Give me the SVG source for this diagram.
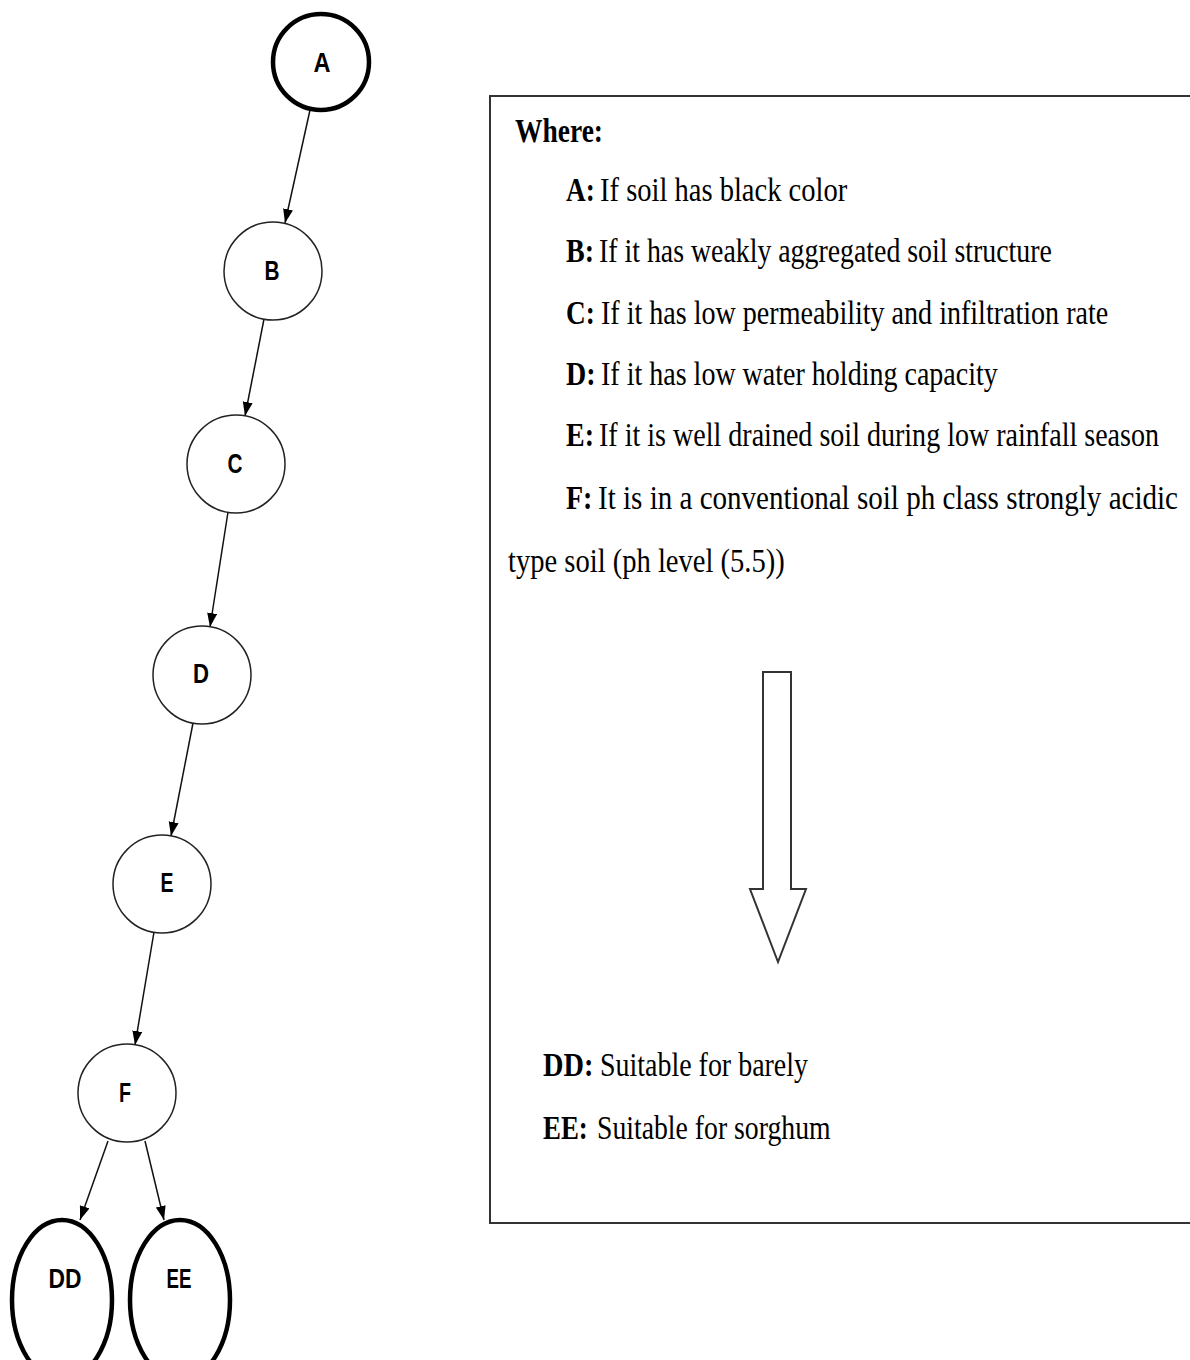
<svg xmlns="http://www.w3.org/2000/svg" width="1190" height="1360" viewBox="0 0 1190 1360">
  <style>
    .node { fill: #ffffff; stroke: #222222; stroke-width: 1.5; }
    .term { fill: #ffffff; stroke: #000000; stroke-width: 4.5; }
    .lbl { font-family: "Liberation Sans", Arial, sans-serif; font-weight: bold; font-size: 28px; fill: #000000; text-anchor: middle; }
    .edge { stroke: #111111; stroke-width: 1.5; fill: none; marker-end: url(#head); }
    .txt { font-family: "Liberation Serif", "Times New Roman", serif; font-size: 33px; fill: #000000; }
    .b { font-weight: bold; }
  </style>
  <defs>
    <marker id="head" markerWidth="14" markerHeight="11" refX="14" refY="5" orient="auto" markerUnits="userSpaceOnUse">
      <path d="M0,0 L14,5 L0,10 z" fill="#000000"/>
    </marker>
  </defs>
  <rect width="1190" height="1360" fill="#ffffff"/>

  <!-- connectors -->
  <g id="edges">
    <line class="edge" x1="310" y1="110" x2="285" y2="223"/>
    <line class="edge" x1="264" y1="319" x2="245" y2="416"/>
    <line class="edge" x1="228" y1="512" x2="210" y2="627"/>
    <line class="edge" x1="193" y1="723" x2="171" y2="836"/>
    <line class="edge" x1="154" y1="932" x2="135" y2="1045"/>
    <line class="edge" x1="108" y1="1141" x2="80" y2="1220"/>
    <line class="edge" x1="145" y1="1141" x2="164" y2="1220"/>
  </g>

  <!-- nodes -->
  <g id="node-A">
    <circle class="term" cx="321" cy="62" r="48"/>
    <text class="lbl" x="322" y="72" textLength="17" lengthAdjust="spacingAndGlyphs">A</text>
  </g>
  <g id="node-B">
    <circle class="node" cx="273" cy="271" r="49"/>
    <text class="lbl" x="272" y="280" textLength="15" lengthAdjust="spacingAndGlyphs">B</text>
  </g>
  <g id="node-C">
    <circle class="node" cx="236" cy="464" r="49"/>
    <text class="lbl" x="235" y="473" textLength="15" lengthAdjust="spacingAndGlyphs">C</text>
  </g>
  <g id="node-D">
    <circle class="node" cx="202" cy="675" r="49"/>
    <text class="lbl" x="201" y="683" textLength="16" lengthAdjust="spacingAndGlyphs">D</text>
  </g>
  <g id="node-E">
    <circle class="node" cx="162" cy="884" r="49"/>
    <text class="lbl" x="167" y="892" textLength="13" lengthAdjust="spacingAndGlyphs">E</text>
  </g>
  <g id="node-F">
    <circle class="node" cx="127" cy="1093" r="49"/>
    <text class="lbl" x="125" y="1102" textLength="12" lengthAdjust="spacingAndGlyphs">F</text>
  </g>
  <g id="node-DD">
    <ellipse class="term" cx="62" cy="1300" rx="50" ry="80"/>
    <text class="lbl" x="65" y="1288" textLength="33" lengthAdjust="spacingAndGlyphs">DD</text>
  </g>
  <g id="node-EE">
    <ellipse class="term" cx="180" cy="1300" rx="50" ry="80"/>
    <text class="lbl" x="179" y="1288" textLength="25" lengthAdjust="spacingAndGlyphs">EE</text>
  </g>

  <!-- legend panel: narrow serif lines, each condensed horizontally -->
  <g id="legend">
    <rect x="490" y="96" width="720" height="1127" fill="none" stroke="#333333" stroke-width="2"/>
    <text class="txt b" transform="translate(515,142) scale(0.8,1)" textLength="110" lengthAdjust="spacingAndGlyphs">Where:</text>

    <text class="txt b" transform="translate(566,201) scale(0.8,1)" textLength="36" lengthAdjust="spacingAndGlyphs">A:</text>
    <text class="txt" transform="translate(600,201) scale(0.8,1)" textLength="309" lengthAdjust="spacingAndGlyphs">If soil has black color</text>

    <text class="txt b" transform="translate(566,262) scale(0.8,1)" textLength="35" lengthAdjust="spacingAndGlyphs">B:</text>
    <text class="txt" transform="translate(599,262) scale(0.8,1)" textLength="566" lengthAdjust="spacingAndGlyphs">If it has weakly aggregated soil structure</text>

    <text class="txt b" transform="translate(566,324) scale(0.8,1)" textLength="36" lengthAdjust="spacingAndGlyphs">C:</text>
    <text class="txt" transform="translate(601,324) scale(0.8,1)" textLength="634" lengthAdjust="spacingAndGlyphs">If it has low permeability and infiltration rate</text>

    <text class="txt b" transform="translate(566,385) scale(0.8,1)" textLength="37" lengthAdjust="spacingAndGlyphs">D:</text>
    <text class="txt" transform="translate(601,385) scale(0.8,1)" textLength="496" lengthAdjust="spacingAndGlyphs">If it has low water holding capacity</text>

    <text class="txt b" transform="translate(566,446) scale(0.8,1)" textLength="35" lengthAdjust="spacingAndGlyphs">E:</text>
    <text class="txt" transform="translate(599,446) scale(0.8,1)" textLength="700" lengthAdjust="spacingAndGlyphs">If it is well drained soil during low rainfall season</text>

    <text class="txt b" transform="translate(566,509) scale(0.8,1)" textLength="33" lengthAdjust="spacingAndGlyphs">F:</text>
    <text class="txt" transform="translate(598,509) scale(0.8,1)" textLength="725" lengthAdjust="spacingAndGlyphs">It is in a conventional soil ph class strongly acidic</text>

    <text class="txt" transform="translate(508,572) scale(0.8,1)" textLength="346" lengthAdjust="spacingAndGlyphs">type soil (ph level (5.5))</text>

    <!-- hollow block arrow -->
    <path d="M763,672 L791,672 L791,889 L806,889 L778,962 L750,889 L763,889 Z" fill="#ffffff" stroke="#333333" stroke-width="2" stroke-linejoin="miter"/>

    <text class="txt b" transform="translate(543,1076) scale(0.8,1)" textLength="63" lengthAdjust="spacingAndGlyphs">DD:</text>
    <text class="txt" transform="translate(600,1076) scale(0.8,1)" textLength="260" lengthAdjust="spacingAndGlyphs">Suitable for barely</text>

    <text class="txt b" transform="translate(543,1139) scale(0.8,1)" textLength="56" lengthAdjust="spacingAndGlyphs">EE:</text>
    <text class="txt" transform="translate(597,1139) scale(0.8,1)" textLength="292" lengthAdjust="spacingAndGlyphs">Suitable for sorghum</text>
  </g>
</svg>
